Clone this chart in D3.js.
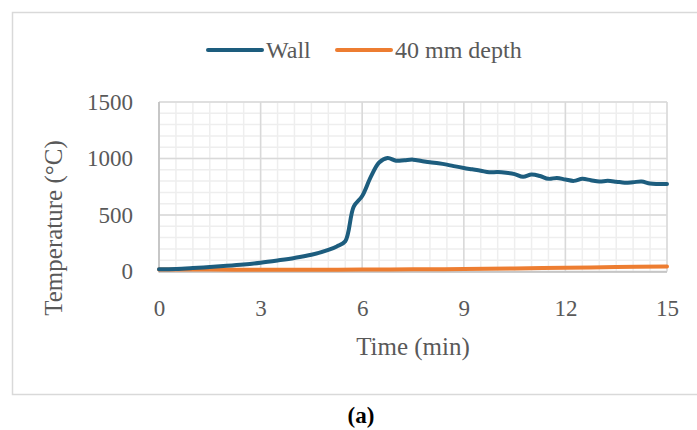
<!DOCTYPE html>
<html>
<head>
<meta charset="utf-8">
<script src="https://cdn.jsdelivr.net/npm/d3@7"></script>
<style>
  html, body { margin: 0; padding: 0; background: #fff; }
  svg { display: block; }
</style>
</head>
<body>
<svg id="chart" width="697" height="430"></svg>
<script>
// ---- data ----
const wallTime = [0, 0.5, 1, 1.5, 2, 2.5, 3, 3.5, 4, 4.5, 5, 5.25, 5.5, 5.75, 6, 6.25, 6.5, 6.75, 7, 7.25, 7.5, 7.75, 8, 8.25, 8.5, 8.75, 9, 9.25, 9.5, 9.75, 10, 10.25, 10.5, 10.75, 11, 11.25, 11.5, 11.75, 12, 12.25, 12.5, 12.75, 13, 13.25, 13.5, 13.75, 14, 14.25, 14.5, 14.75, 15];
const wallTemp = [20, 22, 30, 40, 50, 62, 78, 98, 120, 148, 192, 222, 268, 575, 668, 835, 965, 1005, 980, 985, 990, 978, 966, 958, 946, 930, 916, 904, 892, 878, 880, 874, 862, 838, 858, 845, 820, 828, 814, 802, 820, 808, 796, 802, 795, 786, 790, 796, 778, 775, 774];
const depthTime = [0, 1.5, 3, 4.5, 6, 7.5, 9, 10.5, 12, 13.5, 15];
const depthTemp = [18, 17, 16, 16, 17, 19, 22, 27, 33, 39, 45];
const xTicks = [0, 3, 6, 9, 12, 15];
const yTicks = [0, 500, 1000, 1500];
const seriesNames = ["Wall", "40 mm depth"];
const seriesColors = ["#1d5d7e", "#ed7d31"];

const FONT = "'Liberation Serif', 'Times New Roman', serif";

// ---- layout ----
const svg = d3.select("#chart");
const x = d3.scaleLinear().domain([0, 15]).range([159, 667]);
const y = d3.scaleLinear().domain([0, 1500]).range([271.5, 102]);

// outer frame
svg.append("rect")
  .attr("x", 12.5).attr("y", 12.5).attr("width", 700).attr("height", 382)
  .attr("fill", "none").attr("stroke", "#d9d9d9").attr("stroke-width", 1.5);

// minor grid
const g = svg.append("g");
g.append("g").selectAll("line").data(d3.range(0, 15.01, 0.5))
  .join("line")
  .attr("x1", d => x(d)).attr("x2", d => x(d))
  .attr("y1", y(0)).attr("y2", y(1500))
  .attr("stroke", "#eeeeee").attr("stroke-width", 1.5);
g.append("g").selectAll("line").data(d3.range(0, 1501, 100))
  .join("line")
  .attr("y1", d => y(d)).attr("y2", d => y(d))
  .attr("x1", x(0)).attr("x2", x(15))
  .attr("stroke", "#eeeeee").attr("stroke-width", 1.5);
// major grid
g.append("g").selectAll("line").data(xTicks)
  .join("line")
  .attr("x1", d => x(d)).attr("x2", d => x(d))
  .attr("y1", y(0)).attr("y2", y(1500))
  .attr("stroke", "#d9d9d9").attr("stroke-width", 1.5);
g.append("g").selectAll("line").data(yTicks)
  .join("line")
  .attr("y1", d => y(d)).attr("y2", d => y(d))
  .attr("x1", x(0)).attr("x2", x(15))
  .attr("stroke", "#d9d9d9").attr("stroke-width", 1.5);

// axes lines
svg.append("line").attr("x1", x(0)).attr("x2", x(0)).attr("y1", y(1500)).attr("y2", y(0) + 1)
  .attr("stroke", "#bfbfbf").attr("stroke-width", 1.5);
svg.append("line").attr("x1", x(0)).attr("x2", x(15)).attr("y1", y(0) + 0.5).attr("y2", y(0) + 0.5)
  .attr("stroke", "#bfbfbf").attr("stroke-width", 1.5);

// axes via d3
const xAxis = svg.append("g").attr("transform", `translate(0,${y(0)})`)
  .call(d3.axisBottom(x).tickValues(xTicks).tickFormat(d3.format("d")).tickSize(0).tickPadding(28));
xAxis.attr("font-family", FONT);
xAxis.select(".domain").remove();
xAxis.selectAll("text").attr("font-size", 23).attr("fill", "#595959").attr("font-family", FONT);

const yAxis = svg.append("g").attr("transform", `translate(${x(0)},0)`)
  .call(d3.axisLeft(y).tickValues(yTicks).tickFormat(d3.format("d")).tickSize(0).tickPadding(26));
yAxis.attr("font-family", FONT);
yAxis.select(".domain").remove();
yAxis.selectAll("text").attr("font-size", 23).attr("fill", "#595959").attr("font-family", FONT);

// lines
const line = d3.line().x(d => x(d[0])).y(d => y(d[1])).curve(d3.curveCatmullRom.alpha(0.5));
svg.append("path").datum(depthTime.map((t, i) => [t, depthTemp[i]]))
  .attr("d", line).attr("fill", "none").attr("stroke", seriesColors[1])
  .attr("stroke-width", 4).attr("stroke-linecap", "round");
svg.append("path").datum(wallTime.map((t, i) => [t, wallTemp[i]]))
  .attr("d", line).attr("fill", "none").attr("stroke", seriesColors[0])
  .attr("stroke-width", 4).attr("stroke-linecap", "round").attr("stroke-linejoin", "round");

// axis titles
svg.append("text").attr("x", 413).attr("y", 355).attr("text-anchor", "middle")
  .attr("font-family", FONT).attr("font-size", 25).attr("fill", "#595959").text("Time (min)");
svg.append("text").attr("transform", "translate(62,228) rotate(-90)").attr("text-anchor", "middle")
  .attr("font-family", FONT).attr("font-size", 25).attr("fill", "#595959").text("Temperature (°C)");

// legend
const legend = svg.append("g");
const legX = [208, 337];
seriesNames.forEach((name, i) => {
  legend.append("line").attr("x1", legX[i]).attr("x2", legX[i] + 54)
    .attr("y1", 50).attr("y2", 50).attr("stroke", seriesColors[i])
    .attr("stroke-width", 4).attr("stroke-linecap", "round");
  legend.append("text").attr("x", legX[i] + 58).attr("y", 58)
    .attr("font-family", FONT).attr("font-size", 24).attr("fill", "#595959").text(name);
});

// caption
svg.append("text").attr("x", 361).attr("y", 423).attr("text-anchor", "middle")
  .attr("font-family", FONT).attr("font-size", 23).attr("font-weight", "bold").attr("fill", "#000").text("(a)");
</script>
</body>
</html>
